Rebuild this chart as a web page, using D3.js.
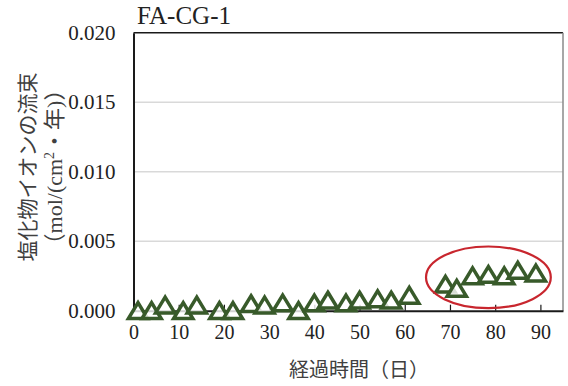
<!DOCTYPE html>
<html>
<head>
<meta charset="utf-8">
<script src="https://cdn.jsdelivr.net/npm/d3@7"></script>
<style>
  html, body { margin: 0; padding: 0; background: #fff; }
  svg { display: block; }
</style>
</head>
<body>
<div id="chart"></div>
<script>
// Elapsed days of each measurement and the chloride ion flux observed on that day
const days = [1, 4, 7, 11, 14, 19, 22, 26, 29, 33, 36.5, 40, 43, 47, 50, 54, 57, 61, 69, 71.5, 75, 78.5, 82, 85, 89];
const flux = [0, 0, 0.0004, 0, 0.0004, 0, 0, 0.0005, 0.0004, 0.00055, 0, 0.00055, 0.00075, 0.00055, 0.00075,
              0.00085, 0.00075, 0.0011, 0.0019, 0.0016, 0.0025, 0.0026, 0.0025, 0.0029, 0.0027];

const xTicks = [0, 10, 20, 30, 40, 50, 60, 70, 80, 90];
const yTicks = [0, 0.005, 0.010, 0.015, 0.020];

const chartTitle = "FA-CG-1";
const xTitle = "経過時間（日）";
const yTitleLine1 = "塩化物イオンの流束";
const yTitleLine2 = ["（mol/(cm", "2", "・年)）"];

// Highlighted late-period group: centre and radii in data units
const highlightCenter = [78.5, 0.0024];
const highlightRadius = [13.8, 0.00222];

const SERIF = '"Liberation Serif", "Times New Roman", "DejaVu Serif", serif';
const SANS_JP = '"Noto Sans CJK JP", sans-serif';
const MIXED = '"Liberation Serif", "Noto Sans CJK JP", serif';

const W = 568, H = 386;
const plot = { left: 133.5, right: 563, top: 32.7, bottom: 310.7 };

const svg = d3.select("#chart").append("svg").attr("width", W).attr("height", H);

const x = d3.scaleLinear().domain([0, 95]).range([plot.left, plot.right]);
const y = d3.scaleLinear().domain([0, 0.02]).range([plot.bottom, plot.top]);

// horizontal gridlines
svg.append("g").selectAll("line").data(yTicks.filter(v => v > 0 && v < 0.02)).join("line")
  .attr("x1", plot.left).attr("x2", plot.right)
  .attr("y1", d => y(d)).attr("y2", d => y(d))
  .attr("stroke", "#d9d9d9").attr("stroke-width", 1.5);

// frame: top black, right grey
svg.append("line").attr("x1", plot.left).attr("x2", plot.right)
  .attr("y1", plot.top).attr("y2", plot.top).attr("stroke", "#1a1a1a").attr("stroke-width", 1.5);
svg.append("line").attr("x1", plot.right).attr("x2", plot.right)
  .attr("y1", plot.top).attr("y2", plot.bottom).attr("stroke", "#8a8a8a").attr("stroke-width", 1.5);

// x axis with inward ticks
const xAxis = d3.axisBottom(x).tickValues(xTicks).tickSizeInner(-6).tickSizeOuter(0)
  .tickFormat(d3.format("d")).tickPadding(14);
const gx = svg.append("g").attr("transform", `translate(0,${plot.bottom})`).call(xAxis);
gx.select(".domain").attr("stroke", "#1a1a1a").attr("stroke-width", 2);
gx.selectAll(".tick line").attr("stroke", "#1a1a1a").attr("stroke-width", 1.2);
gx.selectAll(".tick text").style("font-size", "20px").style("font-family", SERIF)
  .attr("fill", "#222");

// y axis
const yAxis = d3.axisLeft(y).tickValues(yTicks).tickSize(0).tickPadding(18)
  .tickFormat(d3.format(".3f"));
const gy = svg.append("g").attr("transform", `translate(${plot.left},0)`).call(yAxis);
gy.select(".domain").attr("stroke", "#1a1a1a").attr("stroke-width", 2);
gy.selectAll(".tick text").style("font-size", "21px").style("font-family", SERIF)
  .attr("fill", "#222");

// open triangle markers
const tri = "M0,-8L9.6,7.8L-9.6,7.8Z";
svg.append("g").selectAll("path").data(days.map((d, i) => [d, flux[i]])).join("path")
  .attr("d", tri)
  .attr("transform", d => `translate(${x(d[0])},${y(d[1])})`)
  .attr("fill", "rgba(255,255,255,0.8)")
  .attr("stroke", "#385a2a").attr("stroke-width", 3.5)
  .attr("stroke-linejoin", "miter");

// highlight ellipse
svg.append("ellipse")
  .attr("cx", x(highlightCenter[0])).attr("cy", y(highlightCenter[1]))
  .attr("rx", x(highlightRadius[0]) - x(0)).attr("ry", y(0) - y(highlightRadius[1]))
  .attr("fill", "none").attr("stroke", "#c8262e").attr("stroke-width", 2.2);

// title
svg.append("text").attr("x", 137).attr("y", 24)
  .style("font-size", "25px").style("font-family", SERIF).attr("fill", "#222")
  .text(chartTitle);

// axis titles
svg.append("text").attr("x", 359).attr("y", 377)
  .attr("text-anchor", "middle").style("font-size", "20px").style("font-family", SANS_JP)
  .attr("fill", "#404040")
  .text(xTitle);

const yt = svg.append("g").attr("transform", "translate(0,167) rotate(-90)");
yt.append("text").attr("x", 0).attr("y", 35).attr("text-anchor", "middle")
  .style("font-size", "21px").style("font-family", SANS_JP).attr("fill", "#404040")
  .text(yTitleLine1);
const l2 = yt.append("text").attr("x", 0).attr("y", 62).attr("text-anchor", "middle")
  .style("font-size", "22px").style("font-family", MIXED).attr("fill", "#404040");
l2.append("tspan").text(yTitleLine2[0]);
l2.append("tspan").attr("dy", -8).style("font-size", "14px").text(yTitleLine2[1]);
l2.append("tspan").attr("dy", 8).text(yTitleLine2[2]);
</script>
</body>
</html>
